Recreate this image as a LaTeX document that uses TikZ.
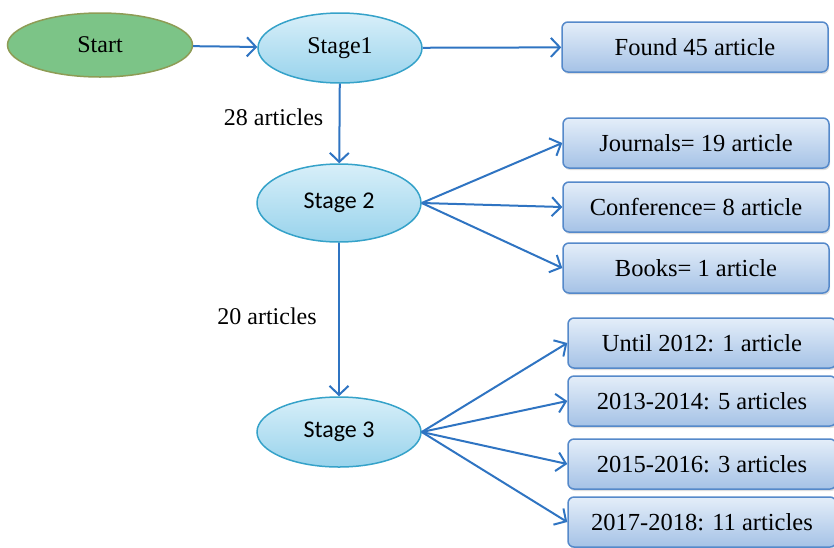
\documentclass[tikz,border=0pt]{standalone}
\usepackage{fontspec}
\setmainfont{Liberation Serif}
\newfontfamily\serifface{Liberation Serif}
\newfontfamily\stagefont{Carlito}
\usetikzlibrary{arrows.meta,shapes.geometric,shadows}
\definecolor{linkblue}{HTML}{2F74C2}
\definecolor{startfill}{HTML}{7CC487}
\definecolor{startline}{HTML}{8E9C55}
\definecolor{stagetop}{HTML}{D8EFF9}
\definecolor{stagebot}{HTML}{98D3EC}
\definecolor{stageline}{HTML}{35A2C9}
\definecolor{boxtop}{HTML}{E4EEF9}
\definecolor{boxbot}{HTML}{A5C2E6}
\definecolor{boxline}{HTML}{5589CA}
\tikzset{
  stage/.style={ellipse, draw=stageline, line width=1.5pt, top color=stagetop, bottom color=stagebot,
    minimum width=164pt, minimum height=70pt, inner sep=0pt, font=\serifface\fontsize{24}{26}\selectfont},
  countbox/.style={rectangle, rounded corners=6pt, draw=boxline, line width=1.5pt, top color=boxtop,
    bottom color=boxbot, minimum width=266pt, minimum height=50pt, inner sep=0pt,
    drop shadow={opacity=0.25, shadow xshift=1pt, shadow yshift=-2pt},
    font=\serifface\fontsize{24.5}{26}\selectfont},
  link/.style={->, draw=linkblue, line width=2pt},
  count/.style={font=\serifface\fontsize{24}{26}\selectfont}
}
\begin{document}
\begin{tikzpicture}[x=1pt, y=-1pt, >={Straight Barb[length=9pt,width=19pt]}]
\useasboundingbox (0,0) rectangle (834,547);
\begin{scope}
\clip (0,0) rectangle (834,547);
% ellipses
\node[ellipse, draw=startline, line width=1.5pt, fill=startfill, minimum width=185pt, minimum height=64pt,
  font=\serifface\fontsize{24}{26}\selectfont] (start) at (100,45) {Start};
\node[stage] (s1) at (340,48) {Stage1};
\node[stage, minimum height=78pt, font=\stagefont\fontsize{24}{26}\selectfont] (s2) at (339,203) {Stage 2};
\node[stage, font=\stagefont\fontsize{24}{26}\selectfont] (s3) at (339,432) {Stage 3};

% boxes
\node[countbox] (found) at (695,47) {Found 45 article};
\node[countbox] (jour) at (696,143) {Journals= 19 article};
\node[countbox] (conf) at (696,207) {Conference= 8 article};
\node[countbox] (book) at (696,268) {Books= 1 article};
\node[countbox, minimum width=268pt] (y12) at (702,343) {Until 2012: 1 article};
\node[countbox, minimum width=268pt] (y14) at (702,401) {2013-2014: 5 articles};
\node[countbox, minimum width=268pt] (y16) at (702,464) {2015-2016: 3 articles};
\node[countbox, minimum width=268pt] (y18) at (702,522) {2017-2018: 11 articles};

% connectors
\draw[link] (start) -- (s1);
\draw[link] (s1) -- (found);
\draw[link] (s1) -- node[count, left=12pt, pos=0.42]{28 articles} (s2);
\draw[link] (s2) -- node[count, left=18pt, pos=0.48]{20 articles} (s3);
\foreach \b in {jour,conf,book}
  \draw[link] (s2.east) -- (\b.west);
\foreach \b in {y12,y14,y16,y18}
  \draw[link] (s3.east) -- (\b.west);
\end{scope}
\end{tikzpicture}
\end{document}
